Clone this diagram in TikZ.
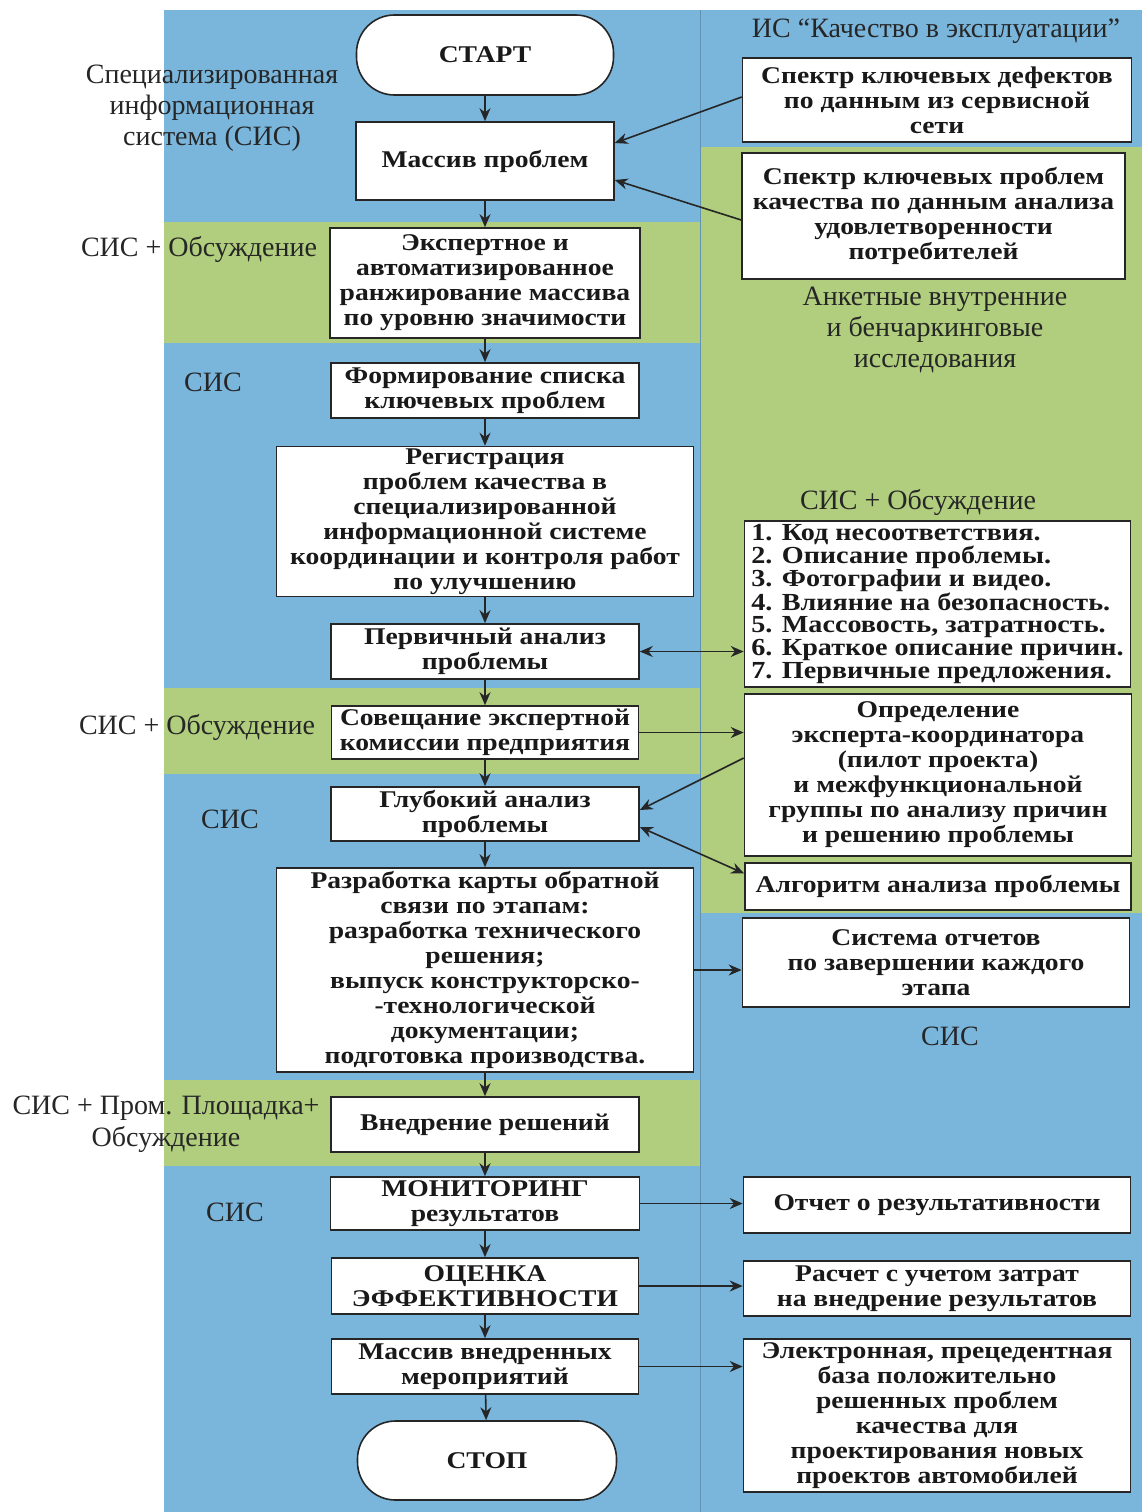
\documentclass[tikz,border=0pt]{standalone}
\usepackage{fontspec}
\setmainfont{Liberation Serif}
\newfontfamily\boxfont[FakeStretch=1.15]{Liberation Serif}
\usepackage{tikz}
\usetikzlibrary{arrows.meta}
\definecolor{bgblue}{RGB}{122,182,220}
\definecolor{bggreen}{RGB}{176,206,125}
\definecolor{ink}{RGB}{38,38,38}
\tikzset{
  box/.style={draw=ink, line width=1.6pt, fill=white, align=center, inner sep=2pt,
              text=black!90, font=\boxfont\bfseries\fontsize{24}{25}\selectfont},
  stadium/.style={box, rounded corners=38pt},
  listbox/.style={box, align=left, font=\boxfont\bfseries\fontsize{24.5}{22.7}\selectfont},
  lbl/.style={align=center, inner sep=0pt, text=ink, font=\fontsize{28}{31}\selectfont},
  arrow/.style={-{Stealth[length=13pt,width=11pt]}, line width=1.6pt, draw=ink},
  dbl/.style={{Stealth[length=13pt,width=11pt]}-{Stealth[length=13pt,width=11pt]}, line width=1.6pt, draw=ink},
}
\begin{document}
\begin{tikzpicture}[x=1pt,y=-1pt]
  \useasboundingbox (0,0) rectangle (1142,1512);
  \fill[white] (0,0) rectangle (1142,1512);
  \fill[bgblue] (164,10) rectangle (1142,1512);
  \fill[bggreen] (164,222) rectangle (700,343);
  \fill[bggreen] (164,688) rectangle (700,774);
  \fill[bggreen] (164,1080) rectangle (700,1166);
  \fill[bggreen] (700,147) rectangle (1142,913);
  \draw[bgblue!80!black, line width=0.5pt] (700,10) -- (700,1512);

  \node[stadium, minimum width=257pt, minimum height=80pt] (a) at (485,55) {СТАРТ};
  \node[box, minimum width=258pt, minimum height=78pt] (b) at (485,161) {Массив проблем};
  \node[box, minimum width=310pt, minimum height=110pt] (c) at (485,283)
    {Экспертное и\\автоматизированное\\ранжирование массива\\по уровню значимости};
  \node[box, minimum width=308pt, minimum height=55pt] (d) at (485,390.5)
    {Формирование списка\\ключевых проблем};
  \node[box, minimum width=417pt, minimum height=149pt] (e) at (485,521.5)
    {Регистрация\\проблем качества в\\специализированной\\информационной системе\\координации и контроля работ\\по улучшению};
  \node[box, minimum width=308pt, minimum height=55pt] (f) at (485,651.5)
    {Первичный анализ\\проблемы};
  \node[box, minimum width=307pt, minimum height=53pt] (g) at (485,732.5)
    {Совещание экспертной\\комиссии предприятия};
  \node[box, minimum width=308pt, minimum height=54pt] (h) at (485,814)
    {Глубокий анализ\\проблемы};
  \node[box, minimum width=417pt, minimum height=204pt] (i) at (485,970)
    {Разработка карты обратной\\связи по этапам:\\разработка технического\\решения;\\выпуск конструкторско-\\-технологической\\документации;\\подготовка производства.};
  \node[box, minimum width=308pt, minimum height=55pt] (j) at (485,1124.5) {Внедрение решений};
  \node[box, minimum width=309pt, minimum height=53pt] (k) at (485,1203.5)
    {МОНИТОРИНГ\\результатов};
  \node[box, minimum width=307pt, minimum height=56pt] (l) at (485,1286)
    {ОЦЕНКА\\ЭФФЕКТИВНОСТИ};
  \node[box, minimum width=307pt, minimum height=55pt] (m) at (485,1366.5)
    {Массив внедренных\\мероприятий};
  \node[stadium, minimum width=259pt, minimum height=79pt] (n) at (487,1460.5) {СТОП};

  \node[box, minimum width=389pt, minimum height=84pt] (p) at (937,100)
    {Спектр ключевых дефектов\\по данным из сервисной\\сети};
  \node[box, minimum width=383pt, minimum height=126pt] (q) at (933.5,216)
    {Спектр ключевых проблем\\качества по данным анализа\\удовлетворенности\\потребителей};
  \node[listbox, minimum width=386pt, minimum height=166pt] (r) at (937.5,604)
    {1. Код несоответствия.\\2. Описание проблемы.\\3. Фотографии и видео.\\4. Влияние на безопасность.\\5. Массовость, затратность.\\6. Краткое описание причин.\\7. Первичные предложения.};
  \node[box, minimum width=387pt, minimum height=162pt] (s) at (938,775)
    {Определение\\эксперта-координатора\\(пилот проекта)\\и межфункциональной\\группы по анализу причин\\и решению проблемы};
  \node[box, minimum width=386pt, minimum height=47pt] (t) at (938,886.5) {Алгоритм анализа проблемы};
  \node[box, minimum width=387pt, minimum height=89pt] (u) at (936,962.5)
    {Система отчетов\\по завершении каждого\\этапа};
  \node[box, minimum width=387pt, minimum height=56pt] (v) at (937,1205) {Отчет о результативности};
  \node[box, minimum width=387pt, minimum height=55pt] (w) at (937,1288.5)
    {Расчет с учетом затрат\\на внедрение результатов};
  \node[box, minimum width=387pt, minimum height=153pt] (x) at (937,1415.5)
    {Электронная, прецедентная\\база положительно\\решенных проблем\\качества для\\проектирования новых\\проектов автомобилей};

  \node[lbl] (lab1) at (212,108) {Специализированная\\информационная\\система (СИС)};
  \node[lbl] (lab2) at (199,249) {СИС + Обсуждение};
  \node[lbl] (lab3) at (213,382) {СИС};
  \node[lbl] (lab4) at (197,727) {СИС + Обсуждение};
  \node[lbl] (lab5) at (230,819) {СИС};
  \node[lbl, font=\fontsize{28}{32}\selectfont] (lab6) at (166,1124) {СИС + Пром. Площадка+\\Обсуждение};
  \node[lbl] (lab7) at (235,1212) {СИС};
  \node[lbl] (lab8) at (936,31) {ИС “Качество в эксплуатации”};
  \node[lbl] (lab9) at (935,330) {Анкетные внутренние\\и бенчаркинговые\\исследования};
  \node[lbl] (lab10) at (918,502) {СИС + Обсуждение};
  \node[lbl] (lab11) at (950,1036) {СИС};

  \draw[arrow] (a) -- (b);
  \draw[arrow] (b) -- (c);
  \draw[arrow] (c) -- (d);
  \draw[arrow] (d) -- (e);
  \draw[arrow] (e) -- (f);
  \draw[arrow] (f) -- (g);
  \draw[arrow] (g) -- (h);
  \draw[arrow] (h) -- (i);
  \draw[arrow] (i) -- (j);
  \draw[arrow] (j) -- (k);
  \draw[arrow] (k) -- (l);
  \draw[arrow] (l) -- (m);
  \draw[arrow] (m) -- (n);

  \draw[arrow] ([yshift=3pt]p.west) -- ([yshift=18pt]b.east);
  \draw[arrow] ([yshift=-4pt]q.west) -- ([yshift=-19pt]b.east);
  \draw[dbl] (f.east) -- (f.east -| r.west);
  \draw[arrow] (g.east) -- (g.east -| s.west);
  \draw[arrow] ([yshift=17pt]s.west) -- ([yshift=4pt]h.east);
  \draw[dbl] ([yshift=-13pt]h.east) -- ([yshift=13pt]t.west);
  \draw[arrow] (i.east) -- (i.east -| u.west);
  \draw[arrow] (k.east) -- (k.east -| v.west);
  \draw[arrow] (l.east) -- (l.east -| w.west);
  \draw[arrow] (m.east) -- (m.east -| x.west);
\end{tikzpicture}
\end{document}
